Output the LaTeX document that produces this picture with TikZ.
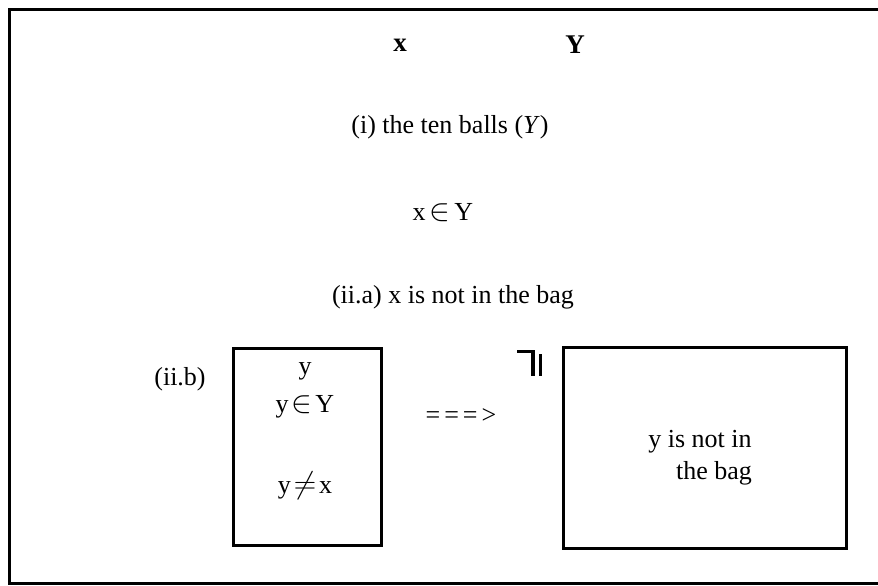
\documentclass[tikz,border=0pt]{standalone}
\usepackage{graphicx}
\usepackage{fontspec}
\setmainfont{Liberation Serif}
\newcommand{\bigin}{\scalebox{1.25}{$\in$}}
\newcommand{\bigneq}{\scalebox{1.25}{$\neq$}}
\begin{document}
\begin{tikzpicture}[x=1pt,y=-1pt,
  lbl/.style={inner sep=0pt,font=\fontsize{26}{30}\selectfont},
  boxframe/.style={draw,line width=3pt},
  frameline/.style={line width=3pt}]
\useasboundingbox (0,0) rectangle (878,586);
% outer frame (right side open)
\coordinate (tl) at (9,10);
\coordinate (tr) at (878,10);
\coordinate (bl) at (9,583);
\coordinate (br) at (878,583);
\draw[frameline] (tr) -- (tl) -- (bl) -- (br);
% top texts
\node[lbl,font=\fontsize{27}{30}\selectfont\bfseries] (x) at (400,45) {x};
\node[lbl,font=\fontsize{27}{30}\selectfont\bfseries] (Y) at (575,45) {Y};
\node[lbl] (i) at (450,127) {(i) the ten balls (\textit{Y})};
\node[lbl] (xinY) at (443,213) {x\hspace{4pt}\bigin\hspace{4pt}Y};
\node[lbl] (iia) at (453,297) {(ii.a) x is not in the bag};
\node[lbl] (iib) at (180,379) {(ii.b)};
% left box
\node[boxframe,minimum width=148pt,minimum height=197pt,inner sep=0pt] (lbox) at (307,446.5) {};
\node[lbl] (ly) at (305,371) {y};
\node[lbl] (lyY) at (305,407) {y\hspace{3pt}\bigin\hspace{3pt}Y};
\node[lbl] (lyx) at (305,486) {y\hspace{3pt}\bigneq\hspace{3pt}x};
% arrow text
\node[lbl] (arr) at (461,416) {={\kern4pt}={\kern4pt}={\kern4pt}>};
% symbol
\coordinate (s1) at (517,351);
\coordinate (s2) at (534,351);
\coordinate (s3) at (533,376);
\coordinate (s4) at (540,354);
\coordinate (s5) at (540,376);
\draw[line width=3pt] (s1) -- (s2);
\draw[line width=4pt] (533,350) -- (s3);
\draw[line width=3pt] (s4) -- (s5);
% right box
\node[boxframe,minimum width=283pt,minimum height=201pt,inner sep=0pt] (rbox) at (704.5,447.5) {};
\node[lbl] (rt1) at (700,442) {y is not in};
\node[lbl] (rt2) at (714,473) {the bag};
\end{tikzpicture}
\end{document}
